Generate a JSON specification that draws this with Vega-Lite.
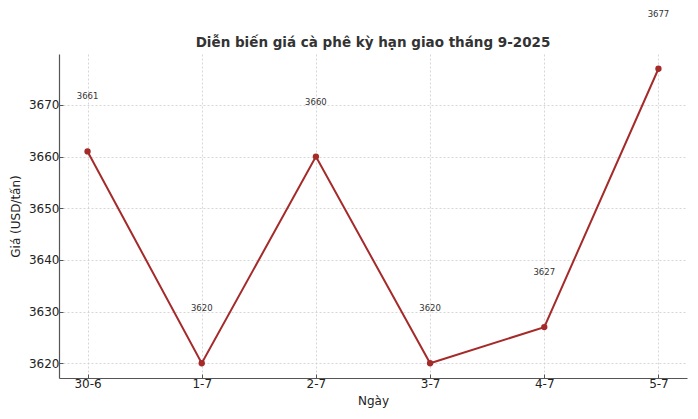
{
  "$schema": "https://vega.github.io/schema/vega-lite/v6.json",
  "autosize": "none",
  "width": 628,
  "height": 324,
  "padding": {"left": 59, "top": 54, "right": 11, "bottom": 41},
  "background": "white",
  "title": {
    "text": "Diễn biến giá cà phê kỳ hạn giao tháng 9-2025",
    "font": "DejaVu Sans",
    "fontSize": 13.5,
    "fontWeight": "bold",
    "color": "#333333",
    "offset": -40
  },
  "data": {
    "values": [
      {"day": "30-6", "price": 3661},
      {"day": "1-7", "price": 3620},
      {"day": "2-7", "price": 3660},
      {"day": "3-7", "price": 3620},
      {"day": "4-7", "price": 3627},
      {"day": "5-7", "price": 3677}
    ]
  },
  "encoding": {
    "x": {
      "field": "day",
      "type": "ordinal",
      "sort": null,
      "title": "Ngày",
      "scale": {"type": "point", "padding": 0.25},
      "axis": {"labelAngle": 0}
    },
    "y": {
      "field": "price",
      "type": "quantitative",
      "title": "Giá (USD/tấn)",
      "scale": {"domain": [3617.15, 3679.85], "nice": false, "zero": false},
      "axis": {"values": [3620, 3630, 3640, 3650, 3660, 3670], "format": "d"}
    }
  },
  "layer": [
    {"mark": {"type": "line", "color": "#a52a2a", "strokeWidth": 2}},
    {"mark": {"type": "point", "filled": true, "color": "#a52a2a", "size": 40, "opacity": 1}},
    {
      "mark": {"type": "text", "font": "DejaVu Sans", "fontSize": 8.5, "color": "#333333", "baseline": "middle", "dy": -55},
      "encoding": {"text": {"field": "price", "type": "quantitative", "format": "d"}}
    }
  ],
  "config": {
    "view": {"stroke": null},
    "axis": {
      "domainColor": "#555555",
      "domainWidth": 1.2,
      "tickColor": "#555555",
      "tickSize": -4,
      "labelFont": "DejaVu Sans",
      "labelFontSize": 12,
      "labelColor": "#222222",
      "labelPadding": 4,
      "titleFont": "DejaVu Sans",
      "titleFontSize": 12,
      "titleFontWeight": "normal",
      "titleColor": "#222222",
      "titlePadding": 6,
      "grid": true,
      "gridColor": "#cccccc",
      "gridDash": [2, 2],
      "gridWidth": 0.8
    }
  }
}
